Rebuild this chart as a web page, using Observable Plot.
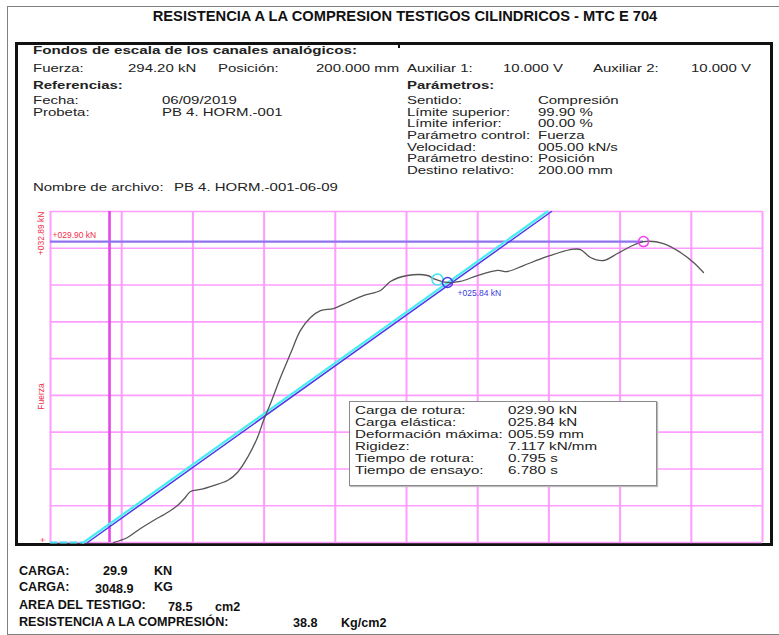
<!DOCTYPE html>
<html><head><meta charset="utf-8">
<script src="https://cdn.jsdelivr.net/npm/d3@7"></script>
<script src="https://cdn.jsdelivr.net/npm/@observablehq/plot@0.6"></script>
<style>
body{margin:0;background:#fff;}
#page{position:relative;width:779px;height:635px;overflow:hidden;background:#fff;font-family:"Liberation Sans",Arial,sans-serif;}
.t{position:absolute;white-space:nowrap;line-height:1;transform-origin:0 50%;}
.box{position:absolute;box-sizing:border-box;}
</style></head><body>
<div id="page"></div>
<script>
// ---------- data ----------
const title = "RESISTENCIA A LA COMPRESION TESTIGOS CILINDRICOS - MTC E 704";
const scaleHeading = "Fondos de escala de los canales analógicos:";
const scaleItems = ["Fuerza:", "294.20 kN", "Posición:", "200.000 mm", "Auxiliar 1:", "10.000 V", "Auxiliar 2:", "10.000 V"];
const refHeading = "Referencias:";
const refLabels = ["Fecha:", "Probeta:"];
const refValues = ["06/09/2019", "PB 4. HORM.-001"];
const paramHeading = "Parámetros:";
const paramLabels = ["Sentido:", "Límite superior:", "Límite inferior:", "Parámetro control:", "Velocidad:", "Parámetro destino:", "Destino relativo:"];
const paramValues = ["Compresión", "99.90 %", "00.00 %", "Fuerza", "005.00 kN/s", "Posición", "200.00 mm"];
const fileLabel = "Nombre de archivo:";
const fileName = "PB 4. HORM.-001-06-09";
const resultLabels = ["Carga de rotura:", "Carga elástica:", "Deformación máxima:", "Rigidez:", "Tiempo de rotura:", "Tiempo de ensayo:"];
const resultValues = ["029.90 kN", "025.84 kN", "005.59 mm", "7.117 kN/mm", "0.795 s", "6.780 s"];
const summaryLabels = ["CARGA:", "CARGA:", "AREA DEL TESTIGO:", "RESISTENCIA A LA COMPRESIÓN:"];
const summaryValues = ["29.9", "3048.9", "78.5", "38.8"];
const summaryUnits = ["KN", "KG", "cm2", "Kg/cm2"];

// chart values (x in grid divisions, y in kN)
const fullScale = 32.89;
const peakLoad = 29.90;
const elasticLoad = 25.84;
const xGrid = [0, 1, 2, 3, 4, 5, 6, 7, 8, 9, 10];
const yGrid = [0, 3.654, 7.309, 10.963, 14.618, 18.272, 21.927, 25.581, 29.236, 32.89];
const markerX = [0.829];
const curveX = [0.885, 1.081, 1.264, 1.447, 1.643, 1.784, 1.880, 1.966, 2.107, 2.289, 2.486, 2.626, 2.767, 2.907, 2.992, 3.090, 3.230, 3.371, 3.511, 3.652, 3.792, 3.975, 4.171, 4.396, 4.635, 4.775, 5.014, 5.295, 5.379, 5.576, 5.758, 5.997, 6.278, 6.419, 6.643, 6.980, 7.303, 7.444, 7.584, 7.767, 7.963, 8.146, 8.329, 8.610, 8.848, 9.031, 9.171];
const curveY = [0, 0.50, 1.39, 2.19, 2.98, 3.68, 4.37, 5.07, 5.27, 5.66, 6.16, 6.96, 8.45, 10.43, 12.12, 13.81, 16.40, 18.78, 21.07, 22.36, 23.05, 23.25, 23.85, 24.54, 25.04, 25.94, 26.53, 26.53, 26.23, 25.84, 25.94, 26.53, 27.03, 26.93, 27.52, 28.42, 29.11, 29.11, 28.32, 28.02, 28.72, 29.41, 29.90, 29.71, 28.82, 27.82, 26.83];
const cyanX = [0.463, 6.980], cyanY = [0, 32.89];
const blueX = [0.520, 7.037], blueY = [0, 32.89];
const cyanDashX = [0, 0.463], cyanDashY = [0, 0];
const cyanMark = [5.435, 26.13];
const blueMark = [5.576, 25.84];
const peakMark = [8.329, 29.90];

// ---------- page helpers ----------
const page = document.getElementById("page");
function box(l, t, w, h, css) {
  const d = document.createElement("div");
  d.className = "box";
  Object.assign(d.style, {left: l + "px", top: t + "px", width: w + "px", height: h + "px"}, css);
  page.appendChild(d);
  return d;
}
function put(txt, x, yc, o = {}) {
  const size = o.size || 11, sx = o.sx || 1;
  const d = document.createElement("div");
  d.className = "t";
  d.textContent = txt;
  Object.assign(d.style, {
    left: x + "px", top: (yc - size * 0.55) + "px", fontSize: size + "px",
    fontWeight: o.bold ? "bold" : "normal", color: o.color || "#222",
    transform: `scaleX(${sx})`
  });
  if (o.ls) d.style.letterSpacing = o.ls + "px";
  page.appendChild(d);
  return d;
}

// frames
box(7, 6, 780, 629, {border: "1.5px solid #808080"});
box(15, 42, 758, 504, {border: "3px solid #111"});
box(398, 44, 2, 4, {background: "#111"});

// title
const tt = put(title, 405, 17, {size: 14.7, bold: true, color: "#111"});
tt.style.transformOrigin = "50% 50%";
tt.style.transform = "translateX(-50%)";

// header block (stretched report text)
const SX = 1.36;
put(scaleHeading, 33, 51, {bold: true, sx: 1.38});
const scaleXs = [33, 128, 218, 316, 407, 503, 593, 691];
scaleItems.forEach((s, i) => put(s, scaleXs[i], 69, {sx: SX}));
put(refHeading, 33, 86, {bold: true, sx: SX});
put(paramHeading, 407, 86, {bold: true, sx: SX});
refLabels.forEach((s, i) => put(s, 33, 101 + i * 11.7, {sx: SX}));
refValues.forEach((s, i) => put(s, 162, 101 + i * 11.7, {sx: SX}));
paramLabels.forEach((s, i) => put(s, 407, 101 + i * 11.7, {sx: SX}));
paramValues.forEach((s, i) => put(s, 538, 101 + i * 11.7, {sx: SX}));
put(fileLabel, 33, 188, {sx: SX});
put(fileName, 174, 188, {sx: SX});

// ---------- chart ----------
const pts = (xs, ys) => xs.map((x, i) => ({x, y: ys[i]}));
const pink = "#ff9cff";
const chart = Plot.plot({
  width: 779, height: 350,
  marginLeft: 50, marginRight: 17, marginTop: 11, marginBottom: 8,
  x: {domain: [0, 10], axis: null},
  y: {domain: [0, fullScale], axis: null},
  style: {background: "transparent", overflow: "visible", fontFamily: "Liberation Sans, Arial, sans-serif"},
  marks: [
    Plot.ruleY(yGrid, {stroke: pink, strokeWidth: 1.6}),
    Plot.ruleX(xGrid, {stroke: pink, strokeWidth: 2}),
    Plot.ruleX(markerX, {stroke: "#e646e6", strokeWidth: 2.6}),
    Plot.ruleY([{y: peakLoad, x1: 0, x2: peakMark[0]}], {y: "y", x1: "x1", x2: "x2", stroke: "#8f72f2", strokeWidth: 2.2}),
    Plot.line(pts(cyanDashX, cyanDashY), {x: "x", y: "y", stroke: "#3fe6f0", strokeWidth: 2, strokeDasharray: "6,4"}),
    Plot.line(pts(cyanX, cyanY), {x: "x", y: "y", stroke: "#45eef2", strokeWidth: 2.2}),
    Plot.line(pts(blueX, blueY), {x: "x", y: "y", stroke: "#4a3ae8", strokeWidth: 1.5}),
    Plot.line(pts(curveX, curveY), {x: "x", y: "y", stroke: "#555", strokeWidth: 1.3, curve: "catmull-rom"}),
    Plot.dot([{x: cyanMark[0], y: cyanMark[1]}], {x: "x", y: "y", r: 5.5, stroke: "#3fe6f0", strokeWidth: 1.5, fill: "none"}),
    Plot.dot([{x: blueMark[0], y: blueMark[1]}], {x: "x", y: "y", r: 5, stroke: "#4a3ae8", strokeWidth: 1.5, fill: "none"}),
    Plot.dot([{x: peakMark[0], y: peakMark[1]}], {x: "x", y: "y", r: 5, stroke: "#f040f0", strokeWidth: 1.5, fill: "none"}),
    Plot.text([{x: blueMark[0], y: elasticLoad}], {x: "x", y: "y", text: () => "+" + "0" + elasticLoad.toFixed(2) + " kN", dx: 10, dy: 11, textAnchor: "start", fill: "#3b3be0", fontSize: 8.5, ariaLabel: "spaced"}),
    Plot.text([{x: 0, y: peakLoad}], {x: "x", y: "y", text: () => "+0" + peakLoad.toFixed(2) + " kN", dx: 2, dy: -6, textAnchor: "start", fill: "#f0304a", fontSize: 8.5, ariaLabel: "spaced"}),
    Plot.text([{x: 0, y: fullScale}], {x: "x", y: "y", text: () => "+0" + fullScale.toFixed(2) + " kN", dx: -9, rotate: -90, textAnchor: "end", fill: "#f0304a", fontSize: 8.5}),
    Plot.text([{x: 0, y: 14.51}], {x: "x", y: "y", text: () => "Fuerza", dx: -9, rotate: -90, textAnchor: "middle", fill: "#f0304a", fontSize: 8.5}),
    Plot.text([{x: 0, y: 0}], {x: "x", y: "y", text: () => "+", dx: -7, rotate: -90, textAnchor: "start", fill: "#f0304a", fontSize: 8.5})
  ]
});
chart.style.position = "absolute";
chart.style.left = "0px";
chart.style.top = "200px";
page.appendChild(chart);
d3.select(chart).selectAll('g[aria-label="spaced"] text').attr("letter-spacing", "1.7px");

// results box
box(349, 401, 308, 85, {border: "1.5px solid #8a8a8a", background: "#fff", boxShadow: "1px 1px 1px #bbb"});
resultLabels.forEach((s, i) => put(s, 355, 411 + i * 12, {sx: 1.38}));
resultValues.forEach((s, i) => put(s, 508, 411 + i * 12, {sx: 1.38}));

// summary
const sumY = [572, 588, 606, 623];
const valX = [103, 95, 168, 293], valDy = [0, 2, 2, 1];
const unitX = [154, 154, 215, 341], unitDy = [0, 0, 2, 1];
summaryLabels.forEach((s, i) => put(s, 19, sumY[i], {size: 12.6, bold: true, color: "#111"}));
summaryValues.forEach((s, i) => put(s, valX[i], sumY[i] + valDy[i], {size: 12.6, bold: true, color: "#111"}));
summaryUnits.forEach((s, i) => put(s, unitX[i], sumY[i] + unitDy[i], {size: 12.6, bold: true, color: "#111"}));
</script></body></html>
